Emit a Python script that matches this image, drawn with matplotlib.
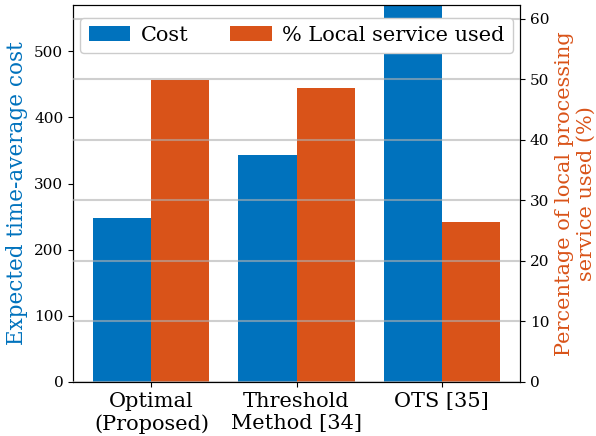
import numpy as np
import matplotlib
matplotlib.use("Agg")
import matplotlib.pyplot as plt

plt.rcParams['font.family'] = 'DejaVu Serif'

# datos
metodos = ["Optimal\n(Proposed)", "Threshold\nMethod [34]", "OTS [35]"]
costo = [248, 343, 600]
porcentaje_local = [49.9, 48.6, 26.5]

azul = '#0072BD'
naranja = '#D95319'

fig = plt.figure(figsize=(5.96, 4.36), dpi=100)
ax1 = fig.add_axes([0.1225, 0.1239, 0.75, 0.8646])
ax2 = ax1.twinx()

x = np.arange(len(metodos))
w = 0.4
b1 = ax1.bar(x - w / 2, costo, w, color=azul, label='Cost')
b2 = ax2.bar(x + w / 2, porcentaje_local, w, color=naranja, label='% Local service used')

ax1.set_ylim(0, 570)
ax2.set_ylim(0, 62.3)
ax1.set_xticks(x)
ax1.set_xticklabels(metodos, fontsize=15)
ax1.tick_params(axis='y', labelsize=11)
ax2.tick_params(axis='y', labelsize=11)

ax1.set_ylabel("Expected time-average cost", color=azul, fontsize=15.5)
ax2.set_ylabel("Percentage of local processing\nservice used (%)", color=naranja, fontsize=15)

ax2.grid(True, axis='y', color='#b0b0b0', alpha=0.6, linewidth=1.5)
ax2.set_axisbelow(False)

ax2.legend([b1, b2], ['Cost', '% Local service used'], loc='upper center', ncol=2,
           fontsize=15, handlelength=2.0, columnspacing=2.0, borderaxespad=0.6,
           handletextpad=0.5, framealpha=1)

fig.savefig("out.png", dpi=100)
